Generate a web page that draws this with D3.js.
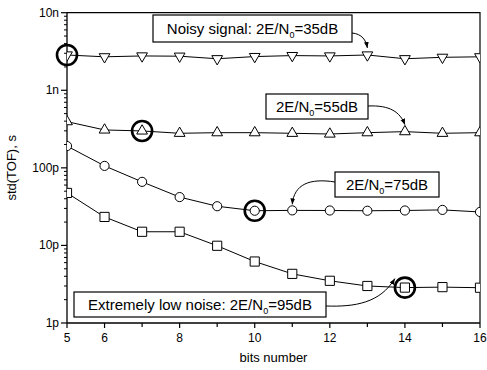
<!DOCTYPE html>
<head>
    <meta charset="utf-8">
    <script src="https://cdn.jsdelivr.net/npm/d3@7/dist/d3.min.js"></script>
    <style>
        body { margin: 0; background: #fff; }
        text { font-family: "Liberation Sans", Arial, sans-serif; fill: #000; }
    </style>
</head>
<body>
    <div id="chart"></div>
    <script>
        // données (secondes)
        const bits = [5, 6, 7, 8, 9, 10, 11, 12, 13, 14, 15, 16];
        const snr35 = [2.85e-9, 2.7e-9, 2.77e-9, 2.75e-9, 2.55e-9, 2.72e-9, 2.8e-9, 2.77e-9, 2.85e-9, 2.55e-9, 2.66e-9, 2.7e-9];
        const snr55 = [3.94e-10, 3.08e-10, 2.99e-10, 2.79e-10, 2.84e-10, 2.84e-10, 2.79e-10, 2.73e-10, 2.84e-10, 2.93e-10, 2.79e-10, 2.84e-10];
        const snr75 = [1.91e-10, 1.06e-10, 6.6e-11, 4.2e-11, 3.2e-11, 2.8e-11, 2.83e-11, 2.82e-11, 2.8e-11, 2.82e-11, 2.87e-11, 2.7e-11];
        const snr95 = [4.75e-11, 2.33e-11, 1.5e-11, 1.5e-11, 9.9e-12, 6.2e-12, 4.3e-12, 3.5e-12, 3.0e-12, 2.86e-12, 2.9e-12, 2.85e-12];

        const xTicks = [5, 6, 7, 8, 9, 10, 11, 12, 13, 14, 15, 16];
        const xLabels = [5, 6, 8, 10, 12, 14, 16];
        const yTicks = [1e-12, 1e-11, 1e-10, 1e-9, 1e-8];
        const yLabels = ["1p", "10p", "100p", "1n", "10n"];

        const width = 487, height = 370;
        const margin = { top: 12.7, right: 7, bottom: 47, left: 67 };

        const svg = d3.select("#chart").append("svg")
            .attr("width", width)
            .attr("height", height);

        const x = d3.scaleLinear().domain([5, 16]).range([margin.left, width - margin.right]);
        const y = d3.scaleLog().domain([1e-12, 1e-8]).range([height - margin.bottom, margin.top]);

        // clip sur la zone du graphe
        svg.append("clipPath").attr("id", "clip")
            .append("rect")
            .attr("x", x(5)).attr("y", y(1e-8))
            .attr("width", x(16) - x(5)).attr("height", y(1e-12) - y(1e-8));

        // cadre haut / droite
        svg.append("path")
            .attr("d", `M${x(5)},${y(1e-8)}H${x(16)}V${y(1e-12)}`)
            .attr("fill", "none").attr("stroke", "#000").attr("stroke-width", 1.2);

        // axe X
        const xAxis = svg.append("g").attr("transform", `translate(0,${y(1e-12)})`);
        xAxis.append("line")
            .attr("x1", x(5)).attr("x2", x(16))
            .attr("stroke", "#000").attr("stroke-width", 1.3);
        xAxis.selectAll(".xt").data(xTicks).enter().append("line")
            .attr("x1", d => x(d)).attr("x2", d => x(d))
            .attr("y1", 0).attr("y2", d => xLabels.includes(d) ? 5 : 4)
            .attr("stroke", "#000").attr("stroke-width", 1.2);
        xAxis.selectAll(".xl").data(xLabels).enter().append("text")
            .attr("x", d => x(d)).attr("y", 19)
            .attr("text-anchor", "middle")
            .style("font-size", "12px")
            .text(d => d);

        // axe Y (log)
        const yAxis = svg.append("g");
        yAxis.append("line")
            .attr("x1", x(5)).attr("x2", x(5))
            .attr("y1", y(1e-12)).attr("y2", y(1e-8))
            .attr("stroke", "#000").attr("stroke-width", 1.3);
        const minor = [];
        yTicks.slice(0, -1).forEach(t => { for (let k = 2; k <= 9; k++) minor.push(t * k); });
        yAxis.selectAll(".ym").data(minor).enter().append("line")
            .attr("x1", x(5) - 3).attr("x2", x(5))
            .attr("y1", d => y(d)).attr("y2", d => y(d))
            .attr("stroke", "#000").attr("stroke-width", 1);
        yAxis.selectAll(".yt").data(yTicks).enter().append("line")
            .attr("x1", x(5) - 6).attr("x2", x(5))
            .attr("y1", d => y(d)).attr("y2", d => y(d))
            .attr("stroke", "#000").attr("stroke-width", 1.2);
        yAxis.selectAll(".yl").data(yTicks).enter().append("text")
            .attr("x", x(5) - 8).attr("y", d => y(d) + 4)
            .attr("text-anchor", "end")
            .style("font-size", "12px")
            .text((d, i) => yLabels[i]);

        // titres
        svg.append("text")
            .attr("x", (x(5) + x(16)) / 2).attr("y", 362)
            .attr("text-anchor", "middle")
            .style("font-size", "13px")
            .text("bits number");
        svg.append("text")
            .attr("transform", `translate(16,${(y(1e-12) + y(1e-8)) / 2}) rotate(-90)`)
            .attr("text-anchor", "middle")
            .style("font-size", "13px")
            .text("std(TOF), s");

        // séries
        const series = [
            { values: snr35, symbol: d3.symbolTriangle, size: 50, rot: 180 },
            { values: snr55, symbol: d3.symbolTriangle, size: 50, rot: 0 },
            { values: snr75, symbol: d3.symbolCircle, size: 66, rot: 0 },
            { values: snr95, symbol: d3.symbolSquare, size: 84, rot: 0 }
        ];

        const line = d3.line().x((d, i) => x(bits[i])).y(d => y(d));
        const plot = svg.append("g").attr("clip-path", "url(#clip)");

        series.forEach(s => {
            plot.append("path")
                .datum(s.values)
                .attr("d", line)
                .attr("fill", "none")
                .attr("stroke", "#000")
                .attr("stroke-width", 1);
            plot.selectAll(null).data(s.values).enter().append("path")
                .attr("d", d3.symbol().type(s.symbol).size(s.size))
                .attr("transform", (d, i) => `translate(${x(bits[i])},${y(d)}) rotate(${s.rot})`)
                .attr("fill", "#fff")
                .attr("stroke", "#000")
                .attr("stroke-width", 1);
        });

        // cercles de mise en évidence
        const highlights = [[snr35, 0], [snr55, 2], [snr75, 5], [snr95, 9]];
        svg.selectAll(".hl").data(highlights).enter().append("circle")
            .attr("cx", d => x(bits[d[1]]))
            .attr("cy", d => y(d[0][d[1]]))
            .attr("r", 10)
            .attr("fill", "none")
            .attr("stroke", "#000")
            .attr("stroke-width", 2.6);

        // flèches
        svg.append("defs").append("marker")
            .attr("id", "arrow")
            .attr("viewBox", "0 0 10 10")
            .attr("refX", 10).attr("refY", 5)
            .attr("markerWidth", 6).attr("markerHeight", 6)
            .attr("markerUnits", "userSpaceOnUse")
            .attr("orient", "auto")
            .append("path").attr("d", "M0,1L10,5L0,9Z").attr("fill", "#000");

        // annotations : boîte + texte + flèche
        const notes = [
            { box: [153, 15, 199, 27], pre: "Noisy signal: 2E/N", post: "=35dB",
              arrow: [352, 33, 362, 34, 366, 40], tip: [13, snr35, -7] },
            { box: [266, 94, 102, 25], pre: "2E/N", post: "=55dB",
              arrow: [368, 106, 390, 105, 400, 112], tip: [14, snr55, -7] },
            { box: [335, 172, 104, 25], pre: "2E/N", post: "=75dB",
              arrow: [335, 182, 310, 178, 294, 184], tip: [11, snr75, -6] },
            { box: [74, 292, 252, 25], pre: "Extremely low noise: 2E/N", post: "=95dB",
              arrow: [326, 306, 355, 307, 380, 303], tip: [14, snr95, 0] }
        ];

        notes.forEach(n => {
            const [bx, by, bw, bh] = n.box;
            svg.append("rect")
                .attr("x", bx).attr("y", by).attr("width", bw).attr("height", bh)
                .attr("fill", "#fff").attr("stroke", "#000").attr("stroke-width", 1.2);
            const t = svg.append("text")
                .attr("x", bx + bw / 2).attr("y", by + bh / 2 + 5)
                .attr("text-anchor", "middle")
                .style("font-size", "15px");
            t.append("tspan").text(n.pre);
            t.append("tspan").attr("dy", 4).style("font-size", "9px").text("0");
            t.append("tspan").attr("dy", -4).text(n.post);

            const i = bits.indexOf(n.tip[0]);
            let tx = x(n.tip[0]), ty = y(n.tip[1][i]) + n.tip[2];
            if (n.tip[2] === 0) { tx -= 10; ty -= 9; }
            const a = n.arrow;
            svg.append("path")
                .attr("d", `M${a[0]},${a[1]}C${a[2]},${a[3]} ${a[4]},${a[5]} ${tx},${ty}`)
                .attr("fill", "none")
                .attr("stroke", "#000")
                .attr("stroke-width", 1)
                .attr("marker-end", "url(#arrow)");
        });
    </script>
</body>
